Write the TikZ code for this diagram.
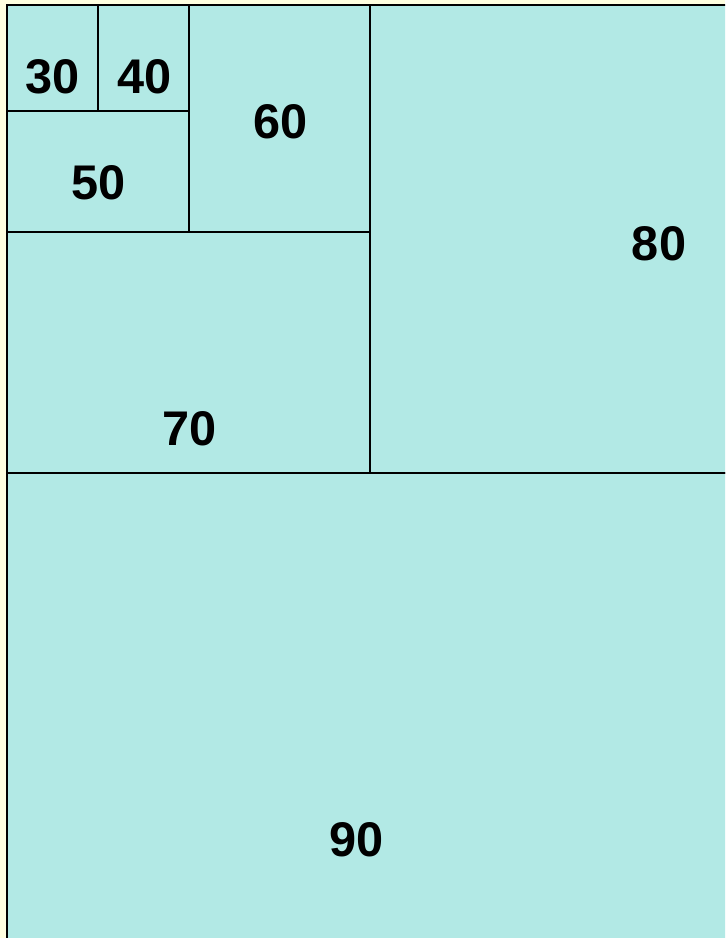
\documentclass[tikz,border=0pt]{standalone}
\usepackage{fontspec}
\setmainfont{Liberation Sans}
\usepackage{xcolor}
\usepackage{tikz}
\usetikzlibrary{positioning}
\definecolor{paper}{RGB}{255,255,224}
\definecolor{pool}{RGB}{178,233,229}
\tikzset{
  cell/.style={draw=black, fill=pool, line width=1.5pt},
  num/.style={font=\fontsize{36.5}{40}\selectfont\bfseries, inner sep=0pt}
}

\begin{document}
\begin{tikzpicture}[x=0.75pt, y=-0.75pt]
\useasboundingbox (0,0) rectangle (725,938);
\fill[paper] (0,0) rectangle (725,938);
\clip (0,0) rectangle (725,938);
\draw[cell] (7,473) rectangle (740,950);
\draw[cell] (370,5) rectangle (740,473);
\draw[cell] (7,232) rectangle (370,473);
\draw[cell] (189,5) rectangle (370,232);
\draw[cell] (7,111) rectangle (189,232);
\draw[cell] (98,5) rectangle (189,111);
\draw[cell] (7,5) rectangle (98,111);
\node[num] (n30) at (53,77) {30};
\node[num] (n40) at (145,77) {40};
\node[num] (n50) at (99,183) {50};
\node[num] (n60) at (281,122) {60};
\node[num] (n70) at (190,429) {70};
\node[num] (n80) at (659,244) {80};
\node[num] (n90) at (357,840) {90};
\end{tikzpicture}
\end{document}
